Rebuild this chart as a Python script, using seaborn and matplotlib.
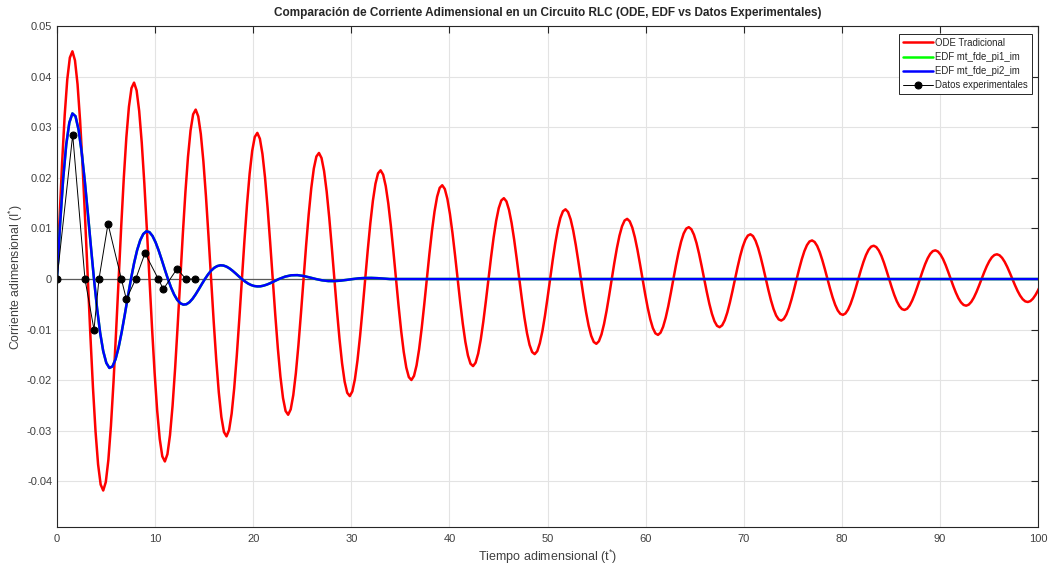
import numpy as np
import matplotlib
matplotlib.use("Agg")
import matplotlib.pyplot as plt
import seaborn as sns
from matplotlib.ticker import FuncFormatter, MultipleLocator

i_ode_e5 = [
    0, 1201, 2306, 3241, 3945, 4374, 4500, 4320, 3849, 3124, 2196, 1130,
    0, -1115, -2142, -3010, -3664, -4062, -4179, -4012, -3575, -2901, -2039, -1049,
    0, 1036, 1989, 2796, 3402, 3772, 3881, 3726, 3320, 2694, 1894, 974,
    0, -962, -1848, -2597, -3160, -3504, -3605, -3461, -3084, -2503, -1759, -905,
    0, 894, 1716, 2412, 2935, 3254, 3348, 3214, 2864, 2324, 1634, 840,
    0, -830, -1593, -2239, -2726, -3022, -3109, -2985, -2659, -2158, -1517, -780,
    0, 771, 1480, 2080, 2532, 2807, 2888, 2772, 2470, 2005, 1409, 725,
    0, -716, -1375, -1932, -2351, -2607, -2682, -2575, -2294, -1862, -1309, -673,
    0, 665, 1277, 1794, 2184, 2421, 2491, 2391, 2131, 1729, 1215, 625,
    0, -617, -1185, -1666, -2028, -2248, -2313, -2220, -1979, -1606, -1129, -581,
    0, 573, 1101, 1547, 1883, 2088, 2148, 2062, 1837, 1491, 1048, 539,
    0, -532, -1022, -1437, -1749, -1939, -1995, -1915, -1707, -1385, -973, -501,
    0, 495, 950, 1335, 1625, 1801, 1853, 1779, 1585, 1286, 904, 465,
    0, -459, -882, -1240, -1509, -1673, -1721, -1652, -1472, -1195, -840, -432,
    0, 427, 819, 1151, 1401, 1553, 1598, 1534, 1367, 1109, 780, 401,
    0, -396, -761, -1069, -1301, -1442, -1484, -1425, -1269, -1030, -724, -372,
    0, 368, 706, 993, 1208, 1339, 1378, 1323, 1179, 957, 672, 346,
    0, -342, -656, -922, -1122, -1244, -1280, -1229, -1095, -889, -625, -321,
    0, 317, 609, 856, 1042, 1156, 1189, 1141, 1017, 825, 580, 298,
    0, -295, -566, -795, -968, -1073, -1104, -1060, -944, -766, -539, -277,
    0, 274, 525, 738, 899, 996, 1025, 984, 877, 712, 500, 257,
    0, -254, -488, -686, -835, -925, -952, -914, -814, -661, -464, -239,
    0, 236, 453, 637, 775, 859, 884, 849, 756, 614, 431, 222,
    0, -219, -421, -591, -720, -798, -821, -788, -702, -570, -401, -206,
    0, 204, 391, 550, 669, 742, 763, 732, 653, 530, 372, 192,
    0, -189, -363, -510, -621, -688, -708, -680, -606, -491, -345, -178,
    0, 176, 337, 474, 577, 640, 658, 632, 563, 457, 321, 165,
    0, -163, -313, -440, -536, -594, -611, -587, -523, -424, -298, -153,
    0, 151, 291, 408, 497, 551, 567, 544, 485, 394, 277, 142,
    0, -141, -270, -380, -462, -512, -527, -506, -451, -366, -257, -132,
    0, 131, 251, 352, 429, 475, 489, 469, 418, 339, 239, 123,
    0, -121, -233, -327, -398, -441, -454, -436, -388, -315, -222, -114,
]
i_ode = np.array(i_ode_e5) * 1e-5
t_ode = np.arange(len(i_ode)) * np.pi / 12

# EDF curves, fine samples (step pi/10) then coarser tail
i_edf_fine = [
    0, .01079, .01979, .02657, .03090, .03272, .03217, .02950, .02511, .01947, .01307, .00642,
    0, -.00579, -.01063, -.01426, -.01658, -.01757, -.01727, -.01584, -.01348, -.01045, -.00702, -.00345,
    0, .00311, .00571, .00766, .00890, .00943, .00927, .00850, .00724, .00561, .00377, .00185,
    0, -.00167, -.00306, -.00411, -.00478, -.00506, -.00498, -.00457, -.00389, -.00301, -.00202, -.00099,
    0, .00090, .00165, .00221, .00256, .00271, .00267, .00245, .00209, .00162, .00109, .00053,
    0, -.00048, -.00089, -.00119, -.00138, -.00146, -.00144, -.00131, -.00112, -.00087, -.00059, -.00029,
    0,
]
i_edf_tail = [
    .00047, .00074, .00077, .00060, .00031, 0,
    -.00025, -.00040, -.00041, -.00032, -.00017, 0,
    .00014, .00021, .00022, .00017, .00009, 0,
    0,
]
t_edf = np.r_[np.arange(73) * np.pi / 10, np.arange(74, 109, 2) * np.pi / 10, 100.0]
i_edf2 = np.array(i_edf_fine + i_edf_tail)
i_edf1 = i_edf2.copy()  # pi1 curve lies under pi2 in the figure

# experimental points
t_exp = [0, 1.6, 2.85, 3.77, 4.28, 5.2, 6.56, 7.07, 8.02, 8.97, 10.33, 10.84, 12.23, 13.15, 14.1]
i_exp = [0, .0285, 0, -.0100, 0, .0109, 0, -.0040, 0, .0051, 0, -.0020, .0020, 0, 0]

sns.set_style("white")
plt.rcParams['font.family'] = ['Liberation Sans', 'DejaVu Sans']
plt.rcParams['axes.unicode_minus'] = False
plt.rcParams['mathtext.fontset'] = 'custom'
plt.rcParams['mathtext.rm'] = 'Liberation Sans'
plt.rcParams['mathtext.it'] = 'Liberation Sans'

txt = '#404040'
fig = plt.figure(figsize=(10.48, 5.65), dpi=100)
ax = fig.add_axes([57 / 1048, 1 - 527 / 565, 981 / 1048, 501 / 565])

ax.axhline(0, color='#5a5a5a', lw=0.9, zorder=1.5)
sns.lineplot(x=t_ode, y=i_ode, ax=ax, color='#ff0000', linewidth=1.8,
             sort=False, estimator=None, label='ODE Tradicional')
sns.lineplot(x=t_edf, y=i_edf1, ax=ax, color='#00ff00', linewidth=1.8,
             sort=False, estimator=None, label='EDF mt_fde_pi1_im')
sns.lineplot(x=t_edf, y=i_edf2, ax=ax, color='#0000ff', linewidth=1.8,
             sort=False, estimator=None, label='EDF mt_fde_pi2_im')
sns.lineplot(x=t_exp, y=i_exp, ax=ax, color='black', linewidth=0.7, marker='o',
             markersize=5, markeredgecolor='black', sort=False, estimator=None,
             label='Datos experimentales')

ax.set_xlim(0, 100)
ax.set_ylim(-0.049, 0.05)
ax.xaxis.set_major_locator(MultipleLocator(10))
ax.yaxis.set_major_locator(MultipleLocator(0.01))
ax.yaxis.set_major_formatter(FuncFormatter(lambda v, p: f'{round(v, 3):g}'))
ax.grid(True, color='#e3e3e3', lw=0.8)
ax.set_axisbelow(True)
ax.tick_params(direction='in', length=5, width=0.8, colors='#262626',
               labelcolor=txt, labelsize=8, top=True, right=True)
ax.tick_params(axis='x', pad=5)
for s in ax.spines.values():
    s.set_color('#262626')
    s.set_linewidth(0.8)

ax.set_title('Comparación de Corriente Adimensional en un Circuito RLC (ODE, EDF vs Datos Experimentales)',
             fontsize=8.45, fontweight='bold', pad=7)
ax.set_xlabel(r'Tiempo adimensional (t$^{*}$)', fontsize=9, color=txt, labelpad=3)
ax.set_ylabel(r'Corriente adimensional (I$^{*}$)', fontsize=8.8, color=txt, labelpad=1)

leg = ax.legend(loc='upper right', bbox_to_anchor=(0.9939, 0.984), borderaxespad=0,
                fontsize=6.9, handlelength=3.1, handletextpad=0.3, labelspacing=0.42,
                borderpad=0.4, fancybox=False, framealpha=1, edgecolor='#262626')
leg.get_frame().set_linewidth(0.7)

fig.savefig('out.png', dpi=100)
